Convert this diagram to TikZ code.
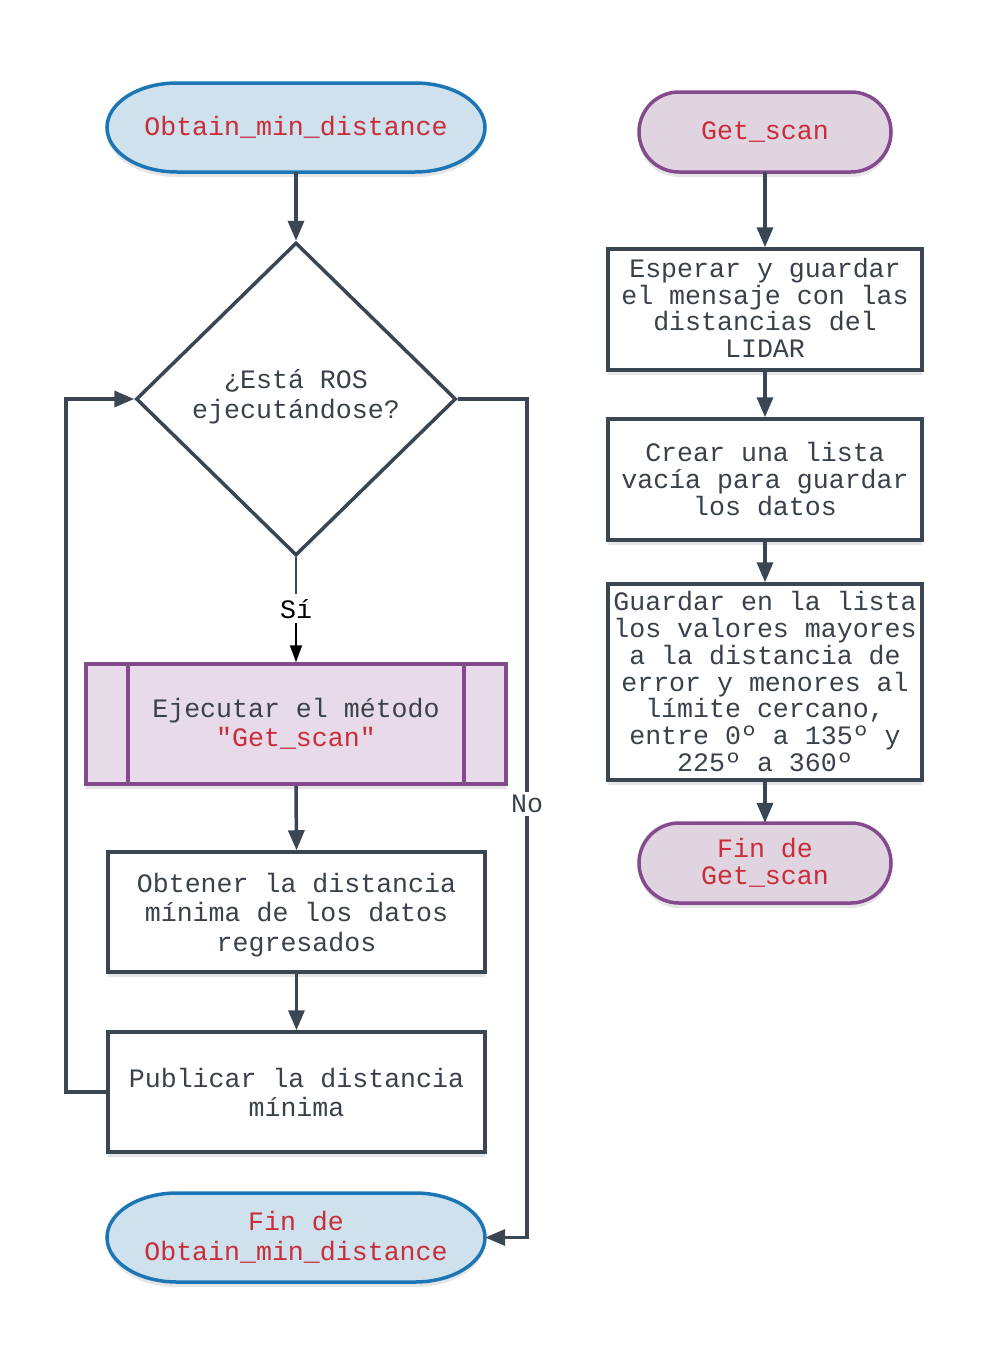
\documentclass[tikz,border=0pt]{standalone}
\usepackage{fontspec}
\setmainfont{Liberation Mono}
\setmonofont{Liberation Mono}
\usetikzlibrary{arrows.meta,shapes.geometric,shadows}
\definecolor{linec}{HTML}{3A4651}
\definecolor{txtc}{HTML}{3A414A}
\definecolor{redt}{HTML}{C92D39}
\definecolor{blueb}{HTML}{1C76B6}
\definecolor{bluef}{HTML}{CFE1ED}
\definecolor{purb}{HTML}{834A8C}
\definecolor{purf}{HTML}{E8DBE9}
\definecolor{purt}{HTML}{E1D4E1}
\tikzset{
  shad/.style={drop shadow={shadow xshift=0pt,shadow yshift=-5pt,opacity=.10,fill=black}},
  txtA/.style={font=\ttfamily\fontsize{26.6}{29.5}\selectfont,text=txtc,align=center,inner sep=0pt},
  txtB/.style={font=\ttfamily\fontsize{26.6}{26.7}\selectfont,text=txtc,align=center,inner sep=0pt},
  procbox/.style={draw=linec,line width=3.5pt,fill=white,shad,rectangle,inner sep=0pt},
  termA/.style={draw=blueb,line width=3.5pt,fill=bluef,shad},
  termB/.style={draw=purb,line width=3.5pt,fill=purt,shad},
  flow/.style={draw=linec,line width=3.5pt,-{Triangle[length=20pt,width=16pt]}},
  thin/.style={draw=black,line width=2pt,-{Triangle[length=17pt,width=12pt]}},
  plain/.style={draw=linec,line width=3.5pt},
}
\begin{document}
\begin{tikzpicture}[x=1pt,y=-1pt]
\useasboundingbox (0,0) rectangle (987,1366);
% ---------- terminal shapes (drawn as paths) ----------
\path[termA] (177,83) -- (415,83) arc[start angle=-90,end angle=90,x radius=70,y radius=44.5]
  -- (177,172) arc[start angle=90,end angle=270,x radius=70,y radius=44.5] -- cycle;
\path[termA] (177,1193) -- (415,1193) arc[start angle=-90,end angle=90,x radius=70,y radius=44.5]
  -- (177,1282) arc[start angle=90,end angle=270,x radius=70,y radius=44.5] -- cycle;
\path[termB] (679,92) -- (851,92) arc[start angle=-90,end angle=90,x radius=40,y radius=40]
  -- (679,172) arc[start angle=90,end angle=270,x radius=40,y radius=40] -- cycle;
\path[termB] (679,823) -- (851,823) arc[start angle=-90,end angle=90,x radius=40,y radius=40]
  -- (679,903) arc[start angle=90,end angle=270,x radius=40,y radius=40] -- cycle;
% ---------- left column ----------
\node[txtA,text=redt,minimum width=378pt,minimum height=89pt] (start) at (296,127.5) {Obtain\_min\_distance};
\node[diamond,draw=linec,line width=3.5pt,fill=white,aspect=1.02,minimum width=320pt,minimum height=313pt,inner sep=0pt] (dec) at (296,399) {};
\node[txtA] (dect) at (296,397) {¿Está ROS\\ejecutándose?};
\node[draw=purb,line width=3.5pt,fill=purf,shad,minimum width=420pt,minimum height=120pt,inner sep=0pt] (sub) at (296,724) {};
\draw[purb,line width=3.5pt] (128,664) -- (128,784) (464,664) -- (464,784);
\node[txtA] (subt) at (296,724) {Ejecutar el método\\\textcolor{redt}{"Get\_scan"}};
\node[procbox,minimum width=377pt,minimum height=120pt] (obt) at (296.5,912) {};
\node[txtA] (obtt) at (296.5,915) {Obtener la distancia\\mínima de los datos\\regresados};
\node[procbox,minimum width=377pt,minimum height=120pt] (pub) at (296.5,1092) {};
\node[txtA] (pubt) at (296.5,1092.5) {Publicar la distancia\\mínima};
\node[txtA,text=redt,minimum width=378pt,minimum height=89pt] (end) at (296,1237.5) {Fin de\\Obtain\_min\_distance};
% ---------- right column ----------
\node[txtB,text=redt,minimum width=251pt,minimum height=80pt] (gs) at (765,132) {Get\_scan};
\node[procbox,minimum width=314pt,minimum height=121pt] (esp) at (765,309.5) {};
\node[txtB] (espt) at (765,308) {Esperar y guardar\\el mensaje con las\\distancias del\\LIDAR};
\node[procbox,minimum width=314pt,minimum height=121pt] (cre) at (765,479.5) {};
\node[txtB] (cret) at (765,479) {Crear una lista\\vacía para guardar\\los datos};
\node[procbox,minimum width=314pt,minimum height=196pt] (gua) at (765,682) {};
\node[txtB] (guat) at (765,681.5) {Guardar en la lista\\los valores mayores\\a la distancia de\\error y menores al\\límite cercano,\\entre 0º a 135º y\\225º a 360º};
\node[txtB,text=redt,minimum width=251pt,minimum height=80pt] (gsend) at (765,863) {Fin de\\Get\_scan};
% ---------- connectors ----------
\draw[flow] (start.south) -- (dec.north);
\draw[linec,line width=2pt] (dec.south) -- (296,594);
\node[txtA,text=black] (si) at (296,609) {Sí};
\draw[thin] (si.south) ++(0,4) -- (sub.north);
\draw[flow] (sub.south) -- (obt.north);
\draw[flow] (obt.south) -- (pub.north);
\coordinate (lp1) at (66,1092);
\coordinate (lp2) at (66,399);
\draw[flow] (pub.west) -- (lp1) -- (lp2) -- (dec.west);
\coordinate (np1) at (527,399);
\coordinate (np2) at (527,1237.5);
\draw[flow] (dec.east) -- (np1) -- (np2) -- (end.east);
\node[txtA,fill=white,inner sep=3pt] (no) at (527,804) {No};
\draw[flow] (gs.south) -- (esp.north);
\draw[flow] (esp.south) -- (cre.north);
\draw[flow] (cre.south) -- (gua.north);
\draw[flow] (gua.south) -- (gsend.north);
\end{tikzpicture}
\end{document}
